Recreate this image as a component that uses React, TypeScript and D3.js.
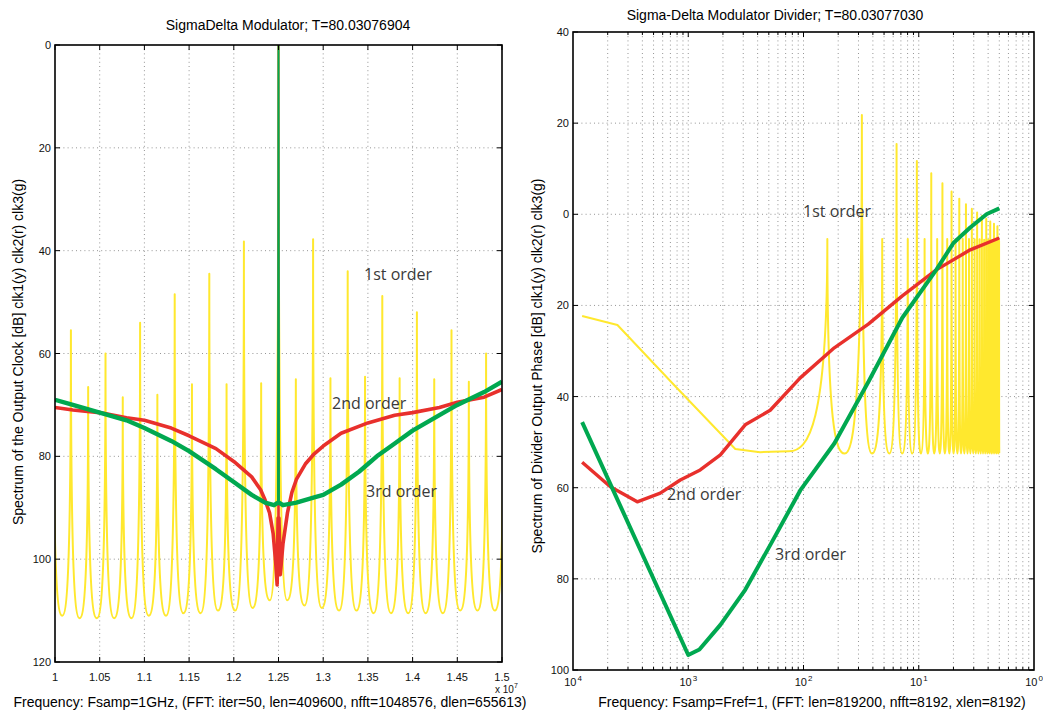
import React from 'react';
import * as d3 from 'd3';

const W = 1043, H = 713;
const FONT = '"Liberation Sans", Arial, Helvetica, sans-serif';
const ANN_FONT = '"Open Sans", "DejaVu Sans", sans-serif';

const YELLOW = '#FFE82E';
const RED = '#E8302C';
const GREEN = '#00A850';

// ---------------- Left panel data ----------------
const leftXTicks = [1, 1.05, 1.1, 1.15, 1.2, 1.25, 1.3, 1.35, 1.4, 1.45, 1.5];
const leftXTickLabels = ['1', '1.05', '1.1', '1.15', '1.2', '1.25', '1.3', '1.35', '1.4', '1.45', '1.5'];
const leftYTicks = [0, -20, -40, -60, -80, -100, -120];
const leftYTickLabels = ['0', '20', '40', '60', '80', '100', '120'];

// 1st order (yellow) spectral lines: positions (x 1e7) and peak levels (dB)
const leftYellowPeakX = [0.9984, 1.0178, 1.0371, 1.0565, 1.0758, 1.0952, 1.1145, 1.1339, 1.1532, 1.1726, 1.1919, 1.2113, 1.2306, 1.25,
  1.2694, 1.2887, 1.3081, 1.3274, 1.3468, 1.3661, 1.3855, 1.4048, 1.4242, 1.4435, 1.4629, 1.4822, 1.5016];
const leftYellowPeakDb = [-66, -55.5, -66.5, -60, -68.5, -54, -68, -48.5, -66, -44.5, -66, -38.2, -65.8, 0,
  -65, -37.8, -64.8, -44, -64.5, -48.8, -64.8, -52, -65, -55.5, -65.5, -60, -66];
// floor between neighbouring lines
const leftYellowTroughDb = [-111, -111.5, -111.5, -111.5, -111.5, -111, -111, -110.5, -110.5, -110, -110, -109.5, -108, -108,
  -109, -109.5, -110, -110, -110.5, -110.5, -110.5, -110.5, -110.5, -110, -110, -110];

// 2nd order (red) noise floor
const leftRedX = [1.0, 1.02, 1.05, 1.08, 1.1, 1.13, 1.15, 1.18, 1.2, 1.22, 1.23, 1.235, 1.24, 1.244, 1.247, 1.2485, 1.2495,
  1.2505, 1.252, 1.255, 1.26, 1.265, 1.27, 1.28, 1.29, 1.3, 1.32, 1.35, 1.38, 1.4, 1.43, 1.45, 1.48, 1.5];
const leftRedDb = [-70.5, -71, -71.5, -72.5, -73, -74.5, -76, -78.5, -81, -84, -86.5, -88.5, -91, -95, -101, -105, -92,
  -92, -103, -97, -91, -87, -84.5, -81.5, -79.5, -78, -75.5, -73.5, -72, -71.5, -70.5, -69.5, -68.5, -67];
const leftRedCarrierX = [1.2495, 1.25, 1.2505];
const leftRedCarrierDb = [-92, 0, -92];

// 3rd order (green) noise floor
const leftGreenX = [1.0, 1.02, 1.05, 1.08, 1.1, 1.13, 1.15, 1.18, 1.2, 1.22, 1.235, 1.245, 1.2495, 1.2505, 1.255, 1.27,
  1.29, 1.3, 1.32, 1.34, 1.36, 1.38, 1.4, 1.43, 1.45, 1.48, 1.5];
const leftGreenDb = [-69, -70, -71.5, -73, -74.5, -77, -79, -82.5, -85, -87.5, -89, -89.5, -89, -89, -89.5, -89,
  -88, -87.5, -85.5, -83, -80, -77.5, -75, -72, -70, -67.5, -65.5];
const leftGreenCarrierX = [1.2495, 1.25, 1.2505];
const leftGreenCarrierDb = [-89, 0, -89];

// ---------------- Right panel data ----------------
const rightXTicks = [1e-4, 1e-3, 1e-2, 1e-1, 1];
const rightXTickExp = ['4', '3', '2', '1', '0'];
const rightYTicks = [40, 20, 0, -20, -40, -60, -80, -100];
const rightYTickLabels = ['40', '20', '0', '20', '40', '60', '80', '100'];

const rightYellowLowF = [1.2e-4, 2.43e-4, 7.9e-4, 2.56e-3, 4.2e-3, 7.5e-3];
const rightYellowLowDb = [-22.3, -24.3, -38, -51.5, -52.2, -52];
const rightYellowPeakF = [0.0161, 0.0321, 0.0482, 0.0642, 0.0803, 0.0963, 0.1124, 0.1284, 0.1445, 0.1605, 0.1766, 0.1926,
  0.2087, 0.2247, 0.2408, 0.2568, 0.2729, 0.2889, 0.305, 0.321, 0.3371, 0.3531, 0.3692, 0.3852, 0.4013, 0.4173, 0.4334,
  0.4494, 0.4655, 0.4815, 0.4976];
const rightYellowPeakDb = [-5.4, 21.8, -5.4, 15.4, -5.4, 11.7, -5.4, 9.0, -5.4, 6.8, -5.4, 5.0, -5.4, 3.4, -5.4, 2.2,
  -5.4, 1.2, -5.5, 0.4, -5.5, -0.4, -5.6, -1.0, -5.6, -1.6, -5.7, -2.1, -5.7, -2.6, -5.8];
const rightYellowFloorDb = -52.5;
const rightYellowEnd = [0.5, -52.5];

const rightRedF = [1.2e-4, 2.11e-4, 3.61e-4, 5.72e-4, 8.53e-4, 1.27e-3, 1.9e-3, 3.12e-3, 5.14e-3, 9.37e-3, 0.0185, 0.0365,
  0.072, 0.1419, 0.2796, 0.5];
const rightRedDb = [-54.4, -59.8, -63.1, -61.2, -58.3, -56.1, -52.8, -46.2, -43, -35.9, -29.3, -24.1, -17.9, -12.2, -7.8, -5.2];

const rightGreenF = [1.2e-4, 1e-3, 1.25e-3, 1.9e-3, 3.12e-3, 5.14e-3, 9.37e-3, 0.0185, 0.0365, 0.072,
  0.1419, 0.2, 0.2796, 0.39, 0.5];
const rightGreenDb = [-45.6, -96.7, -95.5, -90.1, -82.4, -72.6, -60.6, -50.3, -36.8, -22.7, -12.2, -6.3, -2.9, 0.06, 1.3];

// ---------------- Layout ----------------
const LP = { x0: 55, x1: 502, y0: 45, y1: 662 };
const RP = { x0: 573, x1: 1034, y0: 32, y1: 670 };

type P = [number, number];

// curve from a floor point up to a line peak (narrow Lorentzian-like cusp)
function up(t: P, p: P): string {
  const c1x = t[0] + 0.5 * (p[0] - t[0]);
  const c2y = t[1] + 0.12 * (p[1] - t[1]);
  return `C${c1x},${t[1]} ${p[0]},${c2y} ${p[0]},${p[1]}`;
}
function down(p: P, t: P): string {
  const c2x = p[0] + 0.5 * (t[0] - p[0]);
  const c1y = t[1] + 0.12 * (p[1] - t[1]);
  return `C${p[0]},${c1y} ${c2x},${t[1]} ${t[0]},${t[1]}`;
}

function spikes(pts: P[], troughs: number[], start?: P, end?: P, move = true): string {
  let d = '';
  if (start) {
    if (move) d += `M${start[0]},${start[1]}`;
    d += up(start, pts[0]);
  } else {
    d += `M${pts[0][0]},${pts[0][1]}`;
  }
  for (let i = 0; i < pts.length - 1; i++) {
    const a = pts[i], b = pts[i + 1];
    const t: P = [(a[0] + b[0]) / 2, troughs[i]];
    d += down(a, t);
    d += up(t, b);
  }
  if (end) d += down(pts[pts.length - 1], end);
  return d;
}

const Grid: React.FC<{ x: number[]; y: number[]; p: typeof LP }> = ({ x, y, p }) => (
  <g stroke="#7a7a7a" strokeWidth={0.8} strokeDasharray="1,3.2">
    {x.map((v, i) => <line key={'gx' + i} x1={v} x2={v} y1={p.y0} y2={p.y1} />)}
    {y.map((v, i) => <line key={'gy' + i} x1={p.x0} x2={p.x1} y1={v} y2={v} />)}
  </g>
);

export default function App() {
  const xL = d3.scaleLinear().domain([1, 1.5]).range([LP.x0, LP.x1]);
  const yL = d3.scaleLinear().domain([0, -120]).range([LP.y0, LP.y1]);
  const xR = d3.scaleLog().domain([1e-4, 1]).range([RP.x0, RP.x1]);
  const yR = d3.scaleLinear().domain([40, -100]).range([RP.y0, RP.y1]);

  const lineL = d3.line<P>().x(d => xL(d[0])).y(d => yL(d[1]));
  const lineR = d3.line<P>().x(d => xR(d[0])).y(d => yR(d[1]));
  const zip = (a: number[], b: number[]) => a.map((v, i) => [v, b[i]] as P);

  const lYellow = spikes(
    leftYellowPeakX.map((v, i) => [xL(v), yL(leftYellowPeakDb[i])] as P),
    leftYellowTroughDb.map(v => yL(v))
  );
  const lRed = lineL(zip(leftRedX, leftRedDb)) || '';
  const lRedC = lineL(zip(leftRedCarrierX, leftRedCarrierDb)) || '';
  const lGreen = lineL(zip(leftGreenX, leftGreenDb)) || '';
  const lGreenC = lineL(zip(leftGreenCarrierX, leftGreenCarrierDb)) || '';

  const lowPts = zip(rightYellowLowF, rightYellowLowDb);
  const lowPath = lineR(lowPts) || '';
  const lastLow = lowPts[lowPts.length - 1];
  const rYellow = lowPath + spikes(
    rightYellowPeakF.map((v, i) => [xR(v), yR(rightYellowPeakDb[i])] as P),
    rightYellowPeakF.slice(1).map(() => yR(rightYellowFloorDb)),
    [xR(lastLow[0]), yR(lastLow[1])],
    [xR(rightYellowEnd[0]), yR(rightYellowEnd[1])],
    false
  );
  const rRed = lineR(zip(rightRedF, rightRedDb)) || '';
  const rGreen = lineR(zip(rightGreenF, rightGreenDb)) || '';

  const rMinor = xR.ticks(40).filter(v => v > 1e-4 && v < 1);
  const rMajor = rightXTicks;

  const tickLen = 5, minorLen = 3;
  const tickText = { fontFamily: FONT, fontSize: 11, fill: '#111' } as const;
  const annText = { fontFamily: ANN_FONT, fontSize: 16, fill: '#3a3a3a' } as const;

  return (
    <svg width={W} height={H} style={{ position: 'absolute', left: 0, top: 0, background: '#fff' }}
      xmlns="http://www.w3.org/2000/svg">
      <defs>
        <clipPath id="clipL"><rect x={LP.x0} y={LP.y0} width={LP.x1 - LP.x0} height={LP.y1 - LP.y0} /></clipPath>
        <clipPath id="clipR"><rect x={RP.x0} y={RP.y0} width={RP.x1 - RP.x0} height={RP.y1 - RP.y0} /></clipPath>
      </defs>
      <rect x={0} y={0} width={W} height={H} fill="#fff" />

      {/* ================= LEFT PANEL ================= */}
      <Grid x={leftXTicks.slice(1, -1).map(v => xL(v))} y={leftYTicks.slice(1, -1).map(v => yL(v))} p={LP} />
      <g clipPath="url(#clipL)" fill="none" strokeLinejoin="round">
        <path d={lYellow} stroke={YELLOW} strokeWidth={2} />
        <path d={lRed} stroke={RED} strokeWidth={3.6} />
        <path d={lRedC} stroke={RED} strokeWidth={1.8} />
        <path d={lGreen} stroke={GREEN} strokeWidth={4.4} />
        <path d={lGreenC} stroke={GREEN} strokeWidth={2} />
      </g>
      <g stroke="#000" strokeWidth={1}>
        {leftXTicks.map((v, i) => (
          <g key={'lxt' + i}>
            <line x1={xL(v)} x2={xL(v)} y1={LP.y1} y2={LP.y1 - tickLen} />
            <line x1={xL(v)} x2={xL(v)} y1={LP.y0} y2={LP.y0 + tickLen} />
          </g>
        ))}
        {leftYTicks.map((v, i) => (
          <g key={'lyt' + i}>
            <line x1={LP.x0} x2={LP.x0 + tickLen} y1={yL(v)} y2={yL(v)} />
            <line x1={LP.x1} x2={LP.x1 - tickLen} y1={yL(v)} y2={yL(v)} />
          </g>
        ))}
      </g>
      <rect x={LP.x0} y={LP.y0} width={LP.x1 - LP.x0} height={LP.y1 - LP.y0} fill="none" stroke="#000" strokeWidth={1.6} />
      {leftXTicks.map((v, i) => (
        <text key={'lxl' + i} x={xL(v)} y={681} textAnchor="middle" {...tickText}>{leftXTickLabels[i]}</text>
      ))}
      {leftYTicks.map((v, i) => (
        <text key={'lyl' + i} x={LP.x0 - 4} y={yL(v) + 4} textAnchor="end" {...tickText}>{leftYTickLabels[i]}</text>
      ))}
      <text x={495} y={693} {...tickText} fontSize={10}>x 10<tspan dy={-5} fontSize={7}>7</tspan></text>
      <text x={288} y={30} textAnchor="middle" fontFamily={FONT} fontSize={14} fill="#000">SigmaDelta Modulator; T=80.03076904</text>
      <text x={270} y={707} textAnchor="middle" fontFamily={FONT} fontSize={14} fill="#000">Frequency: Fsamp=1GHz, (FFT: iter=50, len=409600, nfft=1048576, dlen=655613)</text>
      <text transform="translate(23,352) rotate(-90)" textAnchor="middle" fontFamily={FONT} fontSize={14} fill="#000">Spectrum of the Output Clock [dB] clk1(y) clk2(r) clk3(g)</text>
      <text x={364} y={280} {...annText}>1st order</text>
      <text x={332} y={409} {...annText}>2nd order</text>
      <text x={366} y={497} {...annText}>3rd order</text>

      {/* ================= RIGHT PANEL ================= */}
      <Grid x={rMinor.map(v => xR(v))} y={rightYTicks.slice(1, -1).map(v => yR(v))} p={RP} />
      <g clipPath="url(#clipR)" fill="none" strokeLinejoin="round">
        <path d={rYellow} stroke={YELLOW} strokeWidth={2} />
        <path d={rRed} stroke={RED} strokeWidth={3.4} />
        <path d={rGreen} stroke={GREEN} strokeWidth={4} />
      </g>
      <g stroke="#000" strokeWidth={1}>
        {rMinor.map((v, i) => {
          const major = rMajor.some(m => Math.abs(Math.log10(m) - Math.log10(v)) < 1e-6);
          const len = major ? tickLen : minorLen;
          return (
            <g key={'rxt' + i}>
              <line x1={xR(v)} x2={xR(v)} y1={RP.y1} y2={RP.y1 - len} />
              <line x1={xR(v)} x2={xR(v)} y1={RP.y0} y2={RP.y0 + len} />
            </g>
          );
        })}
        {rightYTicks.map((v, i) => (
          <g key={'ryt' + i}>
            <line x1={RP.x0} x2={RP.x0 + tickLen} y1={yR(v)} y2={yR(v)} />
            <line x1={RP.x1} x2={RP.x1 - tickLen} y1={yR(v)} y2={yR(v)} />
          </g>
        ))}
      </g>
      <rect x={RP.x0} y={RP.y0} width={RP.x1 - RP.x0} height={RP.y1 - RP.y0} fill="none" stroke="#000" strokeWidth={1.6} />
      {rightXTicks.map((v, i) => (
        <text key={'rxl' + i} x={xR(v)} y={686} textAnchor="middle" {...tickText}>10<tspan dy={-5} dx={1} fontSize={8}>{rightXTickExp[i]}</tspan></text>
      ))}
      {rightYTicks.map((v, i) => (
        <text key={'ryl' + i} x={RP.x0 - 4} y={yR(v) + 4} textAnchor="end" {...tickText}>{rightYTickLabels[i]}</text>
      ))}
      <text x={775} y={20} textAnchor="middle" fontFamily={FONT} fontSize={14} fill="#000">Sigma-Delta Modulator Divider; T=80.03077030</text>
      <text x={812} y={707} textAnchor="middle" fontFamily={FONT} fontSize={14} fill="#000">Frequency: Fsamp=Fref=1, (FFT: len=819200, nfft=8192, xlen=8192)</text>
      <text transform="translate(542,366) rotate(-90)" textAnchor="middle" fontFamily={FONT} fontSize={14} fill="#000">Spectrum of Divider Output Phase [dB] clk1(y) clk2(r) clk3(g)</text>
      <text x={803} y={217} {...annText}>1st order</text>
      <text x={667} y={500} {...annText}>2nd order</text>
      <text x={775} y={560} {...annText}>3rd order</text>
    </svg>
  );
}
